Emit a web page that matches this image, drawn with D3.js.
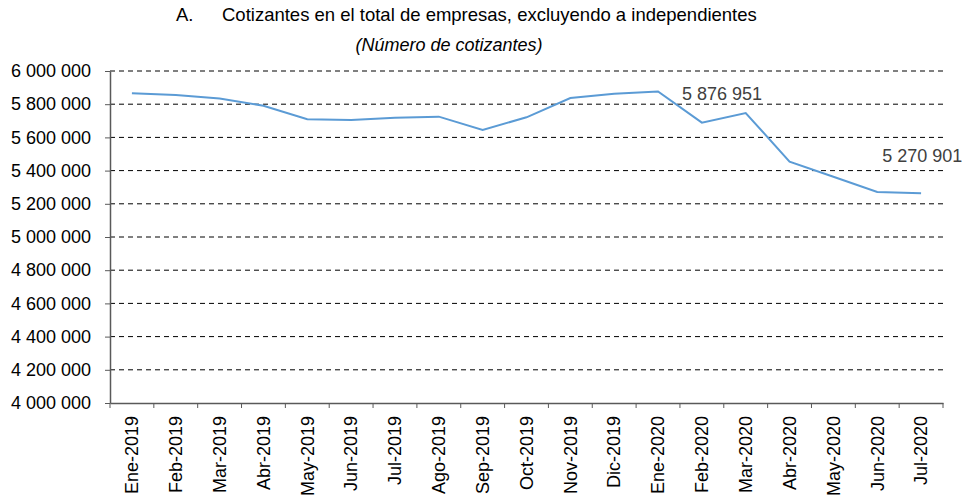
<!DOCTYPE html>
<html>
<head>
<meta charset="utf-8">
<script src="https://cdn.jsdelivr.net/npm/d3@7"></script>
<style>
  body { margin: 0; background: #fff; }
  svg { font-family: "Liberation Sans", Arial, sans-serif; }
</style>
</head>
<body>
<div id="chart"></div>
<script>
// data
var months = ["Ene-2019", "Feb-2019", "Mar-2019", "Abr-2019", "May-2019", "Jun-2019",
    "Jul-2019", "Ago-2019", "Sep-2019", "Oct-2019", "Nov-2019", "Dic-2019",
    "Ene-2020", "Feb-2020", "Mar-2020", "Abr-2020", "May-2020", "Jun-2020", "Jul-2020"];
var cotizantes = [5866000, 5855000, 5835000, 5791000, 5709000, 5705000,
    5719000, 5725000, 5645000, 5721000, 5837000, 5863000,
    5876951, 5689000, 5747000, 5454000, 5363000, 5270901, 5263000];
var yTicks = [4000000, 4200000, 4400000, 4600000, 4800000, 5000000,
    5200000, 5400000, 5600000, 5800000, 6000000];
var labelled = ["Ene-2020", "Jun-2020"];

var margin = { top: 71, right: 19, bottom: 92, left: 110 },
    width = 962 - margin.left - margin.right,
    height = 495 - margin.top - margin.bottom;

var svg = d3.select("#chart")
    .append("svg")
    .attr("width", 962)
    .attr("height", 495);

// titles
svg.append("text")
    .attr("x", 176).attr("y", 21)
    .style("font-size", "18.5px")
    .attr("fill", "#000")
    .text("A.");
svg.append("text")
    .attr("x", 222).attr("y", 21)
    .style("font-size", "18.5px")
    .attr("fill", "#000")
    .text("Cotizantes en el total de empresas, excluyendo a independientes");
svg.append("text")
    .attr("x", 449).attr("y", 51)
    .attr("text-anchor", "middle")
    .style("font-size", "18px")
    .style("font-style", "italic")
    .attr("fill", "#000")
    .text("(Número de cotizantes)");

var g = svg.append("g")
    .attr("transform", "translate(" + margin.left + "," + margin.top + ")");

var x = d3.scaleBand()
    .domain(months)
    .range([0, width]);

var y = d3.scaleLinear()
    .domain([4000000, 6000000])
    .range([height, 0]);

var fmt = function (d) { return d3.format(",")(d).replace(/,/g, " "); };

// dashed gridlines
g.selectAll(".grid")
    .data(yTicks.filter(function (d) { return d > 4000000; }))
    .enter().append("line")
    .attr("x1", 0).attr("x2", width)
    .attr("y1", function (d) { return y(d); })
    .attr("y2", function (d) { return y(d); })
    .attr("stroke", "#000")
    .attr("stroke-width", 1)
    .attr("stroke-dasharray", "5,4");

// y axis
var yAxis = g.append("g")
    .call(d3.axisLeft(y).tickValues(yTicks).tickFormat(fmt).tickSize(5).tickSizeOuter(0));
yAxis.select(".domain").attr("stroke", "#595959").attr("stroke-width", 1.5);
yAxis.selectAll(".tick line").attr("stroke", "#595959");
yAxis.selectAll(".tick text")
    .attr("x", -19)
    .style("font-size", "18px")
    .style("font-family", "Liberation Sans, Arial, sans-serif")
    .attr("fill", "#000");

// x axis with ticks on band edges
var xAxis = g.append("g")
    .attr("transform", "translate(0," + height + ")")
    .call(d3.axisBottom(x).tickSize(0).tickSizeOuter(0));
xAxis.select(".domain").attr("stroke", "#595959").attr("stroke-width", 1.5);
xAxis.selectAll(".tick text")
    .attr("transform", "rotate(-90)")
    .attr("x", -13)
    .attr("y", 0)
    .attr("dy", "0.35em")
    .attr("text-anchor", "end")
    .style("font-size", "18px")
    .style("font-family", "Liberation Sans, Arial, sans-serif")
    .attr("fill", "#000");
g.selectAll(".xtick")
    .data(months.concat(["end"]))
    .enter().append("line")
    .attr("x1", function (d, i) { return i * x.bandwidth(); })
    .attr("x2", function (d, i) { return i * x.bandwidth(); })
    .attr("y1", height)
    .attr("y2", height + 5)
    .attr("stroke", "#595959");

// the line
var data = months.map(function (m, i) { return { m: m, v: cotizantes[i] }; });
g.append("path")
    .datum(data)
    .attr("fill", "none")
    .attr("stroke", "#5B9BD5")
    .attr("stroke-width", 2)
    .attr("d", d3.line()
        .x(function (d) { return x(d.m) + x.bandwidth() / 2; })
        .y(function (d) { return y(d.v); }));

// value labels
var offsets = { "Ene-2020": [24, 9], "Jun-2020": [5, -30] };
g.selectAll(".vlabel")
    .data(data.filter(function (d) { return labelled.indexOf(d.m) >= 0; }))
    .enter().append("text")
    .attr("x", function (d) { return x(d.m) + x.bandwidth() / 2 + offsets[d.m][0]; })
    .attr("y", function (d) { return y(d.v) + offsets[d.m][1]; })
    .style("font-size", "18px")
    .attr("fill", "#404040")
    .text(function (d) { return fmt(d.v); });
</script>
</body>
</html>
